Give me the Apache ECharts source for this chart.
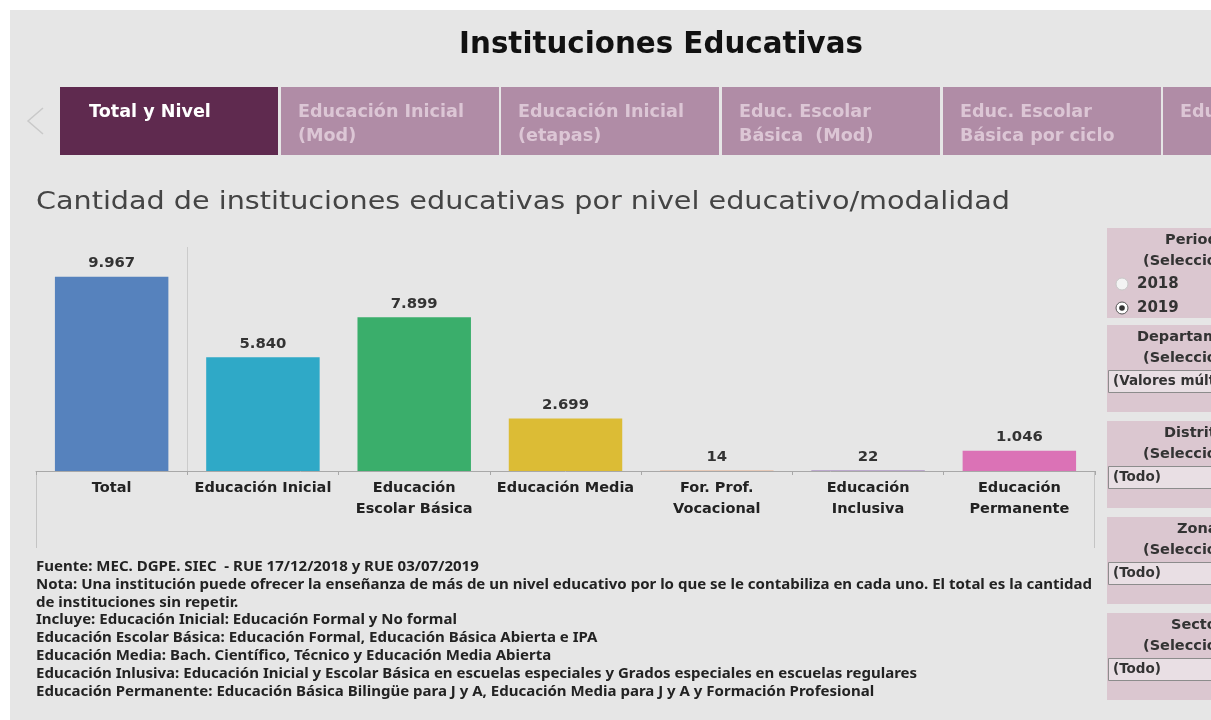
<!DOCTYPE html>
<html>
<head>
<meta charset="utf-8">
<script src="https://cdn.jsdelivr.net/npm/echarts@6/dist/echarts.min.js"></script>
<style>
html,body{margin:0;padding:0;background:#ffffff;}
#chart{width:1211px;height:720px;}
</style>
</head>
<body>
<div id="chart"></div>
<script>
// ---- data ----
const categories = ["Total", "Educación Inicial", "Educación\nEscolar Básica", "Educación Media", "For. Prof.\nVocacional", "Educación\nInclusiva", "Educación\nPermanente"];
const values = [9967, 5840, 7899, 2699, 14, 22, 1046];
const barColors = ["#5682bd", "#2fa9c7", "#3aae6b", "#dcbc35", "#e8762c", "#8f6bb1", "#db72b6"];
const tabLabels = ["Total y Nivel", "Educación Inicial\n(Mod)", "Educación Inicial\n(etapas)", "Educ. Escolar\nBásica  (Mod)", "Educ. Escolar\nBásica por ciclo", "Edu"];
const footnotes = [
  "Fuente: MEC. DGPE. SIEC  - RUE 17/12/2018 y RUE 03/07/2019",
  "Nota: Una institución puede ofrecer la enseñanza de más de un nivel educativo por lo que se le contabiliza en cada uno. El total es la cantidad",
  "de instituciones sin repetir.",
  "Incluye: Educación Inicial: Educación Formal y No formal",
  "Educación Escolar Básica: Educación Formal, Educación Básica Abierta e IPA",
  "Educación Media: Bach. Científico, Técnico y Educación Media Abierta",
  "Educación Inlusiva: Educación Inicial y Escolar Básica en escuelas especiales y Grados especiales en escuelas regulares",
  "Educación Permanente: Educación Básica Bilingüe para J y A, Educación Media para J y A y Formación Profesional"
];
const periodOptions = ["2018", "2019"];

function fmt(v){ return String(v).replace(/\B(?=(\d{3})+(?!\d))/g, "."); }

const FONT = "'DejaVu Sans', 'Noto Sans', sans-serif";
const NOTO = "'Noto Sans', 'DejaVu Sans', sans-serif";
const mctx = document.createElement('canvas').getContext('2d');
function measure(text, font){ mctx.font = font; return mctx.measureText(text).width; }
function fitSize(text, weight, target){ return 100 * target / measure(text, weight + " 100px " + FONT); }

const titleSize = fitSize('Instituciones Educativas', 'bold', 404);
const tabSize = fitSize('Educación Inicial', 'bold', 166);
const axisSize = fitSize('Educación Inicial', 'bold', 137);
const valSize = fitSize('9.967', 'bold', 47);
const footFont = "bold 13.5px " + NOTO;
const footScale = 1056 / measure(footnotes[1], footFont);
const subFont = "24px " + FONT;
const subScale = 974 / measure('Cantidad de instituciones educativas por nivel educativo/modalidad', subFont);

const g = [];
g.push({type:'rect', shape:{x:10,y:10,width:1201,height:710}, style:{fill:'#e6e6e6'}, z:-10});
g.push({type:'text', x:661, y:45, style:{text:'Instituciones Educativas', font:"bold "+titleSize+"px "+FONT, fill:'#111', textAlign:'center', textVerticalAlign:'middle'}});
g.push({type:'polyline', shape:{points:[[43,108],[28,121],[43,134]]}, style:{stroke:'#c9c9c9', lineWidth:1.5, fill:null}});
const tabX = [60, 281, 501, 722, 943, 1163];
tabLabels.forEach((t,i)=>{
  g.push({type:'rect', shape:{x:tabX[i], y:87, width:(i<5?218:80), height:68}, style:{fill: i===0?'#5f2a4f':'#b08ca6'}});
  g.push({type:'text', x:tabX[i]+(i===0?29:17), y:100, style:{text:t, font:"bold "+tabSize+"px "+FONT, fill: i===0?'#ffffff':'#dcc6d5', textAlign:'left', textVerticalAlign:'top', lineHeight:24}});
});
g.push({type:'text', x:36, y:203, scaleX:subScale, style:{text:'Cantidad de instituciones educativas por nivel educativo/modalidad', font:subFont, fill:'#444', textAlign:'left', textVerticalAlign:'middle'}});
g.push({type:'line', shape:{x1:36.5,y1:471,x2:36.5,y2:548}, style:{stroke:'#c4c4c4', lineWidth:1}});
g.push({type:'line', shape:{x1:1094.5,y1:471,x2:1094.5,y2:548}, style:{stroke:'#c4c4c4', lineWidth:1}});
g.push({type:'text', x:36, y:558, scaleX:footScale, style:{text:footnotes.join('\n'), font:footFont, fill:'#222', textAlign:'left', textVerticalAlign:'top', lineHeight:17.9}});
const panels = [
  {y:228,h:90, title:'Periodo', tx:1165, sx:1143},
  {y:325,h:87, title:'Departamento', tx:1137, sx:1143, dd:'(Valores múltiples)'},
  {y:421,h:87, title:'Distrito', tx:1164, sx:1143, dd:'(Todo)'},
  {y:517,h:87, title:'Zona', tx:1177, sx:1143, dd:'(Todo)'},
  {y:613,h:87, title:'Sector', tx:1171, sx:1143, dd:'(Todo)'}
];
panels.forEach((p)=>{
  g.push({type:'rect', shape:{x:1107,y:p.y,width:120,height:p.h}, style:{fill:'#dbc7d0'}});
  g.push({type:'text', x:p.tx, y:p.y+12, style:{text:p.title, font:"bold 14.5px "+FONT, fill:'#333', textAlign:'left', textVerticalAlign:'middle'}});
  g.push({type:'text', x:p.sx, y:p.y+33, style:{text:'(Seleccione)', font:"bold 14.5px "+FONT, fill:'#333', textAlign:'left', textVerticalAlign:'middle'}});
  if(p.dd){
    g.push({type:'rect', shape:{x:1108.5,y:p.y+45.5,width:120,height:22}, style:{fill:'#e9dfe4', stroke:'#8c8c8c', lineWidth:1}});
    g.push({type:'text', x:1113, y:p.y+56, style:{text:p.dd, font:"bold 13.5px "+FONT, fill:'#333', textAlign:'left', textVerticalAlign:'middle'}});
  }
});
periodOptions.forEach((o,i)=>{
  const cy = 284 + i*24;
  g.push({type:'circle', shape:{cx:1122,cy:cy,r:6}, style:{fill: i===1?'#ffffff':'#f3f3f3', stroke: i===1?'#555':'#c8c8c8', lineWidth:1}});
  if(i===1) g.push({type:'circle', shape:{cx:1122,cy:cy,r:2.8}, style:{fill:'#333'}});
  g.push({type:'text', x:1137, y:cy, style:{text:o, font:"bold 15px "+FONT, fill:'#333', textAlign:'left', textVerticalAlign:'middle'}});
});

const chart = echarts.init(document.getElementById('chart'), null, {renderer:'canvas'});
chart.setOption({
  backgroundColor:'transparent',
  animation:false,
  graphic:{elements:g},
  grid:{left:36, right:116, top:247, bottom:249, containLabel:false},
  xAxis:{
    type:'category',
    data:categories,
    axisLine:{show:true, lineStyle:{color:'#a8a8a8', width:1}},
    axisTick:{show:true, interval:0, length:4, lineStyle:{color:'#a8a8a8'}},
    splitLine:{show:false},
    axisLabel:{interval:0, margin:7, fontFamily:FONT, fontSize:axisSize, fontWeight:'bold', color:'#222', lineHeight:21}
  },
  yAxis:{type:'value', min:0, max:11500, show:false, splitLine:{show:false}},
  series:[{
    type:'bar',
    barWidth:'75%',
    data: values.map((v,i)=>({value:v, itemStyle:{color:barColors[i]}})),
    label:{show:true, position:'top', distance:6, fontFamily:FONT, fontSize:valSize, fontWeight:'bold', color:'#333', formatter:(p)=>fmt(p.value)}
  }]
});
// separator between the total and the levels, placed through the axis scale
const x0 = chart.convertToPixel({xAxisIndex:0}, 0);
const x1 = chart.convertToPixel({xAxisIndex:0}, 1);
const sepX = Math.round((x0 + x1) / 2) + 0.5;
const yTop = chart.convertToPixel({yAxisIndex:0}, 11500);
const yBot = chart.convertToPixel({yAxisIndex:0}, 0);
g.push({type:'line', shape:{x1:sepX, y1:yTop, x2:sepX, y2:yBot}, style:{stroke:'#cbcbcb', lineWidth:1}, z:-5});
chart.setOption({graphic:{elements:g}});
</script>
</body>
</html>
